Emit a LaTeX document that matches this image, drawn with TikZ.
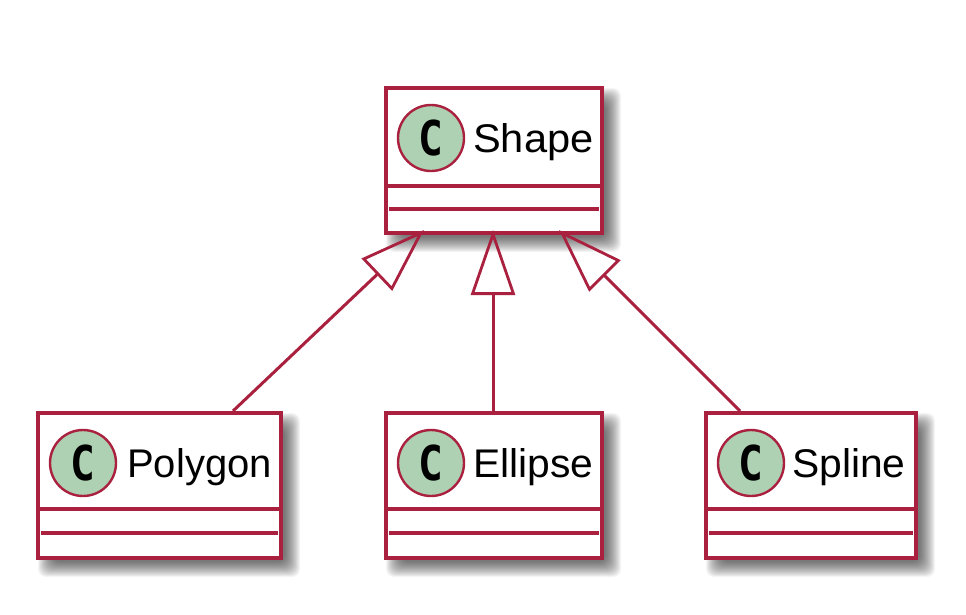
\documentclass[tikz,border=0pt]{standalone}
\usepackage{fontspec}
\setmainfont{Liberation Sans}
\newfontfamily\widefont[FakeStretch=1.04]{Liberation Sans}
\newfontfamily\midfont[FakeStretch=1.02]{Liberation Sans}
\newfontfamily\spotfont[FakeStretch=0.86]{DejaVu Sans Mono Bold}
\usetikzlibrary{arrows.meta,calc}
\definecolor{umlline}{HTML}{A9213F}
\definecolor{spotfill}{HTML}{ADD1B2}
\tikzset{
  x=1pt,y=-1pt,
  classbox/.style={draw=umlline,line width=4pt,fill=white,inner sep=0pt,outer sep=0pt,anchor=north west},
  divider/.style={draw=umlline,line width=3.6pt},
  spot/.style={circle,draw=umlline,fill=spotfill,line width=2.4pt,minimum size=66pt,inner sep=0pt},
  spotletter/.style={inner sep=0pt,font=\spotfont\fontsize{48}{48}\selectfont,text=black},
  classname/.style={inner sep=0pt,anchor=base west,font=\fontsize{40}{40}\selectfont,text=black},
  inherit/.style={draw=umlline,line width=3pt,-{Triangle[open,length=65pt,width=44pt,line width=2.8pt]}}
}
% #1 name, #2 left, #3 top, #4 width, #5 height, #6 label, #7 text x, #8 first divider y, #9 second divider y
\newcommand{\umlclass}[9]{%
  \foreach \k in {0,...,15}{%
    \fill[black,opacity=0.045,rounded corners=8pt]
      ({#2+\k},{#3+\k}) rectangle ({#2+#4+19-\k},{#3+#5+19-\k});
  }%
  \node[classbox,minimum width=#4pt,minimum height=#5pt] (#1) at (#2,#3) {};
  \node[spot] (#1spot) at ({#2+45},{#3+50}) {};
  \node[spotletter] (#1c) at ({#2+45},{#3+50}) {C};
  \node[classname] (#1name) at (#7,{#3+64}) {#6};
  \draw[divider] (#1.west |- 0,#8) -- (#1.east |- 0,#8);
  \draw[divider] ([xshift=3pt]#1.west |- 0,#9) -- ([xshift=-3pt]#1.east |- 0,#9);
}
\begin{document}
\begin{tikzpicture}
\useasboundingbox (0,0) rectangle (966,614);
\fill[white] (0,0) rectangle (966,614);
\umlclass{shape}{386}{88}{216}{145}{\widefont Shape}{473}{186}{209}
\umlclass{polygon}{38}{413}{243}{145}{Polygon}{127}{509}{533}
\umlclass{ellipse}{386}{413}{216}{145}{\midfont Ellipse}{473}{509}{533}
\umlclass{spline}{706}{413}{210}{145}{\midfont Spline}{792}{509}{533}
\coordinate (tipa) at (424,230);
\coordinate (tipb) at (493,230);
\coordinate (tipc) at (559,230);
\coordinate (enda) at (233,411);
\coordinate (endb) at (493,411);
\coordinate (endc) at (740,411);
\draw[inherit] (enda) -- (tipa);
\draw[inherit] (endb) -- (tipb);
\draw[inherit] (endc) -- (tipc);
\end{tikzpicture}
\end{document}
